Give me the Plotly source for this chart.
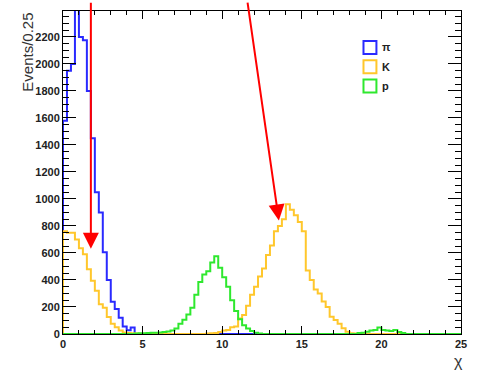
import plotly.graph_objects as go

# ---- data (100 bins of width 0.25 on [0, 25]) ----
bin_width = 0.25
n_bins = 100

pion_counts = [1580, 1950, 2000, 2700, 2200, 2175, 1800, 1450, 1050, 900,
               605, 400, 238, 185, 120, 56, 27, 48, 0, 0] + [0] * 80

kaon_counts = ([760, 750, 750, 700, 635, 590, 480, 395, 320, 220,
                195, 125, 75, 50, 25, 12, 8, 5, 3, 2]
               + [2, 1, 1] + [0] * 13
               + [3, 5, 8, 15, 25, 30, 50, 55, 115, 140,
                  210, 290, 350, 425, 485, 585, 655, 760, 800, 850,
                  960, 920, 880, 830, 760, 470, 400, 330, 300, 240,
                  200, 128, 103, 75, 42, 17, 5, 3]
               + [0] * 26)

proton_counts = ([0] * 18
                 + [3, 5, 5, 8, 10, 10, 12, 15, 18, 25,
                    40, 75, 105, 145, 195, 290, 385, 440, 465, 530,
                    575, 490, 420, 350, 250, 170, 110, 65, 40, 22,
                    10, 4]
                 + [0] * 24
                 + [8, 10, 17, 25, 30, 48, 30, 25, 22, 30, 15, 8]
                 + [0] * 14)

series_names = ["\u03c0", "K", "p"]
series_colors = ["#2a2aff", "#ffc72c", "#2ee82e"]

y_ticks = list(range(0, 2400, 200))
x_ticks = [0, 5, 10, 15, 20, 25]

# arrows: (tail x, tail y) -> (head x, head y)
arrow_tails = [(1.75, 2465), (11.58, 2465)]
arrow_heads = [(1.75, 632), (13.56, 840)]


def step_xy(counts):
    xs = [0.0]
    ys = [0.0]
    for i, c in enumerate(counts):
        xs.append(i * bin_width)
        ys.append(c)
    xs.append(n_bins * bin_width)
    ys.append(counts[-1])
    xs.append(n_bins * bin_width)
    ys.append(0)
    return xs, ys


fig = go.Figure()
for counts, name, col in zip([pion_counts, kaon_counts, proton_counts],
                             series_names, series_colors):
    xs, ys = step_xy(counts)
    fig.add_trace(go.Scatter(x=xs, y=ys, mode="lines", line_shape="hv",
                             line=dict(color=col, width=2), name=name,
                             showlegend=False, hoverinfo="skip"))

for (tx, ty), (hx, hy) in zip(arrow_tails, arrow_heads):
    fig.add_annotation(x=hx, y=hy, ax=tx, ay=ty, xref="x", yref="y",
                       axref="x", ayref="y", text="", showarrow=True,
                       arrowhead=2, arrowsize=1.6, arrowwidth=2,
                       arrowcolor="#ff0000")

# custom legend (outlined boxes + bold labels), in paper coordinates
leg_x0, leg_box_w = 0.755, 0.0325
leg_top, leg_box_h, leg_step = 0.907, 0.040, 0.0595
legend_font = dict(family="Liberation Sans", size=11, color="#222",
                   weight="bold")
for i, (name, col) in enumerate(zip(series_names, series_colors)):
    ytop = leg_top - i * leg_step
    fig.add_shape(type="rect", xref="paper", yref="paper",
                  x0=leg_x0, x1=leg_x0 + leg_box_w,
                  y0=ytop - leg_box_h, y1=ytop,
                  line=dict(color=col, width=2), fillcolor="white")
    fig.add_annotation(text=name, xref="paper", yref="paper",
                       x=leg_x0 + leg_box_w + 0.01, y=ytop - leg_box_h / 2,
                       xanchor="left", yanchor="middle", showarrow=False,
                       font=legend_font)

fig.add_annotation(text="Events/0.25", xref="paper", yref="paper",
                   x=-0.09, y=1.0, xanchor="center", yanchor="top",
                   textangle=-90, showarrow=False,
                   font=dict(family="Liberation Sans", size=15, color="#333"))
fig.add_annotation(text="\u03c7", xref="paper", yref="paper",
                   x=0.9925, y=-0.086, xanchor="center", yanchor="middle",
                   showarrow=False,
                   font=dict(family="Liberation Sans", size=16, color="#333"))

tickfont = dict(family="Liberation Sans", size=11, color="#222", weight="bold")

fig.update_layout(
    width=477, height=373,
    margin=dict(l=63, r=14, t=10, b=39, pad=0),
    paper_bgcolor="white", plot_bgcolor="white",
    showlegend=False,
    xaxis=dict(range=[0, 25], tickvals=x_ticks, ticks="inside", ticklen=8,
               tickcolor="black", showgrid=False, zeroline=False,
               showline=True, linecolor="black", linewidth=1,
               mirror="allticks", tickfont=tickfont,
               minor=dict(dtick=1, ticks="inside", ticklen=4,
                          tickcolor="black", showgrid=False)),
    yaxis=dict(range=[0, 2392], tickvals=y_ticks, ticks="inside", ticklen=13,
               tickcolor="black", showgrid=False, zeroline=False,
               showline=True, linecolor="black", linewidth=1,
               mirror="allticks", tickfont=tickfont,
               minor=dict(dtick=50, ticks="inside", ticklen=6,
                          tickcolor="black", showgrid=False)),
)

fig.write_html("out.html")
